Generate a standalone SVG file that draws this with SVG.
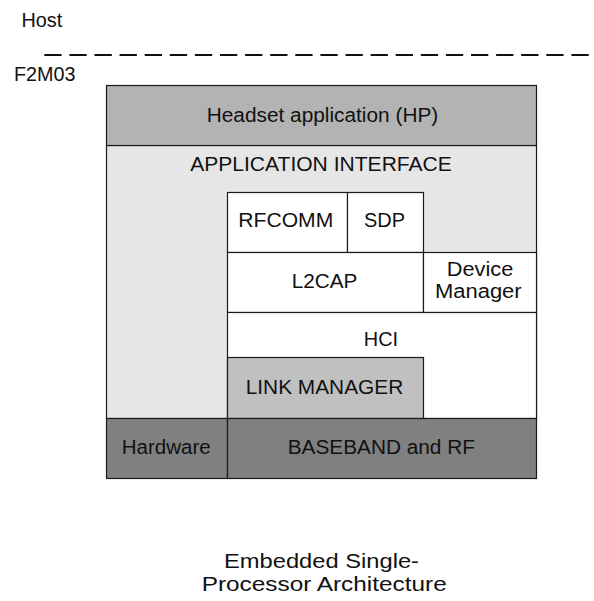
<svg xmlns="http://www.w3.org/2000/svg" width="594" height="601" viewBox="0 0 594 601">
<style>
text{font-family:"Liberation Sans",Arial,sans-serif;font-size:20px;fill:#111;text-anchor:middle}
.b{stroke:#1a1a1a;stroke-width:1.2}
.dark{fill:#808080}.mid{fill:#b3b3b3}.lm{fill:#c0c0c0}.light{fill:#e6e6e6}.w{fill:#ffffff}
</style>
<rect width="594" height="601" fill="#ffffff"/>
<g id="labels">
<text x="21.5" y="26.7" style="text-anchor:start" textLength="40.8" lengthAdjust="spacingAndGlyphs">Host</text>
<text x="14" y="81" style="text-anchor:start" textLength="61.5" lengthAdjust="spacingAndGlyphs">F2M03</text>
</g>
<g id="connectors">
<line x1="44.3" y1="55" x2="594" y2="55" stroke="#111" stroke-width="2" stroke-dasharray="17.3 7.8"/>
</g>
<g id="app-interface">
<rect class="b light" x="106.5" y="145.5" width="430" height="273"/>
<text x="321" y="171" textLength="261.7" lengthAdjust="spacingAndGlyphs">APPLICATION INTERFACE</text>
</g>
<g id="headset">
<rect class="b mid" x="106.5" y="85.5" width="430" height="60"/>
<text x="322.5" y="122.3" textLength="231.6" lengthAdjust="spacingAndGlyphs">Headset application (HP)</text>
</g>
<g id="rfcomm">
<rect class="b w" x="227.5" y="192.5" width="120" height="60"/>
<text x="285.8" y="227.3" textLength="95" lengthAdjust="spacingAndGlyphs">RFCOMM</text>
</g>
<g id="sdp">
<rect class="b w" x="347.5" y="192.5" width="76" height="60"/>
<text x="384.5" y="227.3" textLength="41" lengthAdjust="spacingAndGlyphs">SDP</text>
</g>
<g id="l2cap">
<rect class="b w" x="227.5" y="252.5" width="196" height="60"/>
<text x="324.5" y="288.3" textLength="65.6" lengthAdjust="spacingAndGlyphs">L2CAP</text>
</g>
<g id="device-manager">
<rect class="b w" x="423.5" y="252.5" width="113" height="60"/>
<text x="480" y="276" textLength="66.6" lengthAdjust="spacingAndGlyphs">Device</text>
<text x="478.3" y="298.3" textLength="86.7" lengthAdjust="spacingAndGlyphs">Manager</text>
</g>
<g id="hci">
<rect class="b w" x="227.5" y="312.5" width="309" height="106"/>
<text x="381" y="346" textLength="34.3" lengthAdjust="spacingAndGlyphs">HCI</text>
</g>
<g id="link-manager">
<rect class="b lm" x="227.5" y="357.5" width="196" height="61"/>
<text x="324.5" y="394" textLength="157.6" lengthAdjust="spacingAndGlyphs">LINK MANAGER</text>
</g>
<g id="hardware">
<rect class="b dark" x="106.5" y="418.5" width="121" height="60"/>
<text x="166.2" y="454" textLength="89" lengthAdjust="spacingAndGlyphs">Hardware</text>
</g>
<g id="baseband">
<rect class="b dark" x="227.5" y="418.5" width="309" height="60"/>
<text x="381.3" y="454" textLength="187.3" lengthAdjust="spacingAndGlyphs">BASEBAND and RF</text>
</g>
<g id="caption">
<text x="321.5" y="567.8" style="font-size:20.5px" textLength="195" lengthAdjust="spacingAndGlyphs">Embedded Single-</text>
<text x="324.2" y="590.5" style="font-size:20.5px" textLength="245" lengthAdjust="spacingAndGlyphs">Processor Architecture</text>
</g>
</svg>
